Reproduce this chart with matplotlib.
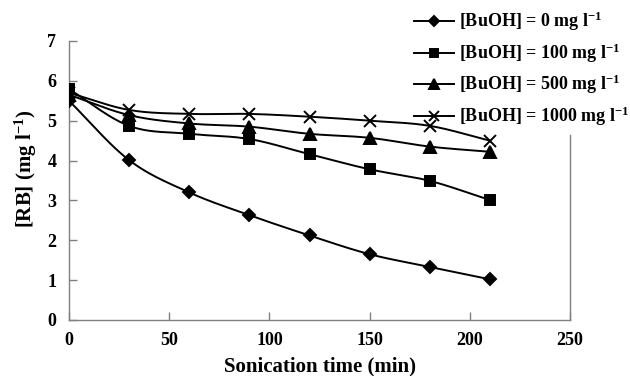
import numpy as np
import matplotlib
matplotlib.use("Agg")
import matplotlib.pyplot as plt
from matplotlib.lines import Line2D

plt.rcParams['font.family'] = ['Liberation Serif', 'DejaVu Serif']
plt.rcParams['font.weight'] = 'bold'
plt.rcParams['mathtext.fontset'] = 'custom'
plt.rcParams['mathtext.rm'] = 'Liberation Serif:bold'
plt.rcParams['mathtext.it'] = 'Liberation Serif:bold'
plt.rcParams['mathtext.bf'] = 'Liberation Serif:bold'

# Sonication time (min)
time_min = [0, 30, 60, 90, 120, 150, 180, 210]

# Rhodamine B concentration (mg/l) for each butanol dose
rb_0 = [5.50, 4.01, 3.20, 2.63, 2.12, 1.65, 1.33, 1.02]
rb_100 = [5.79, 4.87, 4.67, 4.54, 4.16, 3.78, 3.49, 3.01]
rb_500 = [5.65, 5.14, 4.93, 4.85, 4.67, 4.57, 4.35, 4.22]
rb_1000 = [5.70, 5.27, 5.17, 5.17, 5.10, 5.00, 4.87, 4.50]

series_labels = [r'[BuOH] = 0 mg l$^{-1}$', r'[BuOH] = 100 mg l$^{-1}$',
                 r'[BuOH] = 500 mg l$^{-1}$', r'[BuOH] = 1000 mg l$^{-1}$']
x_ticks = [0, 50, 100, 150, 200, 250]
y_ticks = [0, 1, 2, 3, 4, 5, 6, 7]


def smooth(x, y, n=24):
    """Catmull-Rom spline through the points (spreadsheet-style smoothed line)."""
    x = np.asarray(x, float)
    y = np.asarray(y, float)
    px = np.concatenate([[2 * x[0] - x[1]], x, [2 * x[-1] - x[-2]]])
    py = np.concatenate([[2 * y[0] - y[1]], y, [2 * y[-1] - y[-2]]])
    xs, ys = [], []
    t = np.linspace(0, 1, n, endpoint=False)
    for i in range(1, len(px) - 2):
        for p, out in ((px, xs), (py, ys)):
            p0, p1, p2, p3 = p[i - 1], p[i], p[i + 1], p[i + 2]
            out.extend(0.5 * ((2 * p1) + (-p0 + p2) * t +
                              (2 * p0 - 5 * p1 + 4 * p2 - p3) * t ** 2 +
                              (-p0 + 3 * p1 - 3 * p2 + p3) * t ** 3))
    xs.append(x[-1])
    ys.append(y[-1])
    return np.array(xs), np.array(ys)


fig = plt.figure(figsize=(6.3, 3.76), dpi=100)
ax = fig.add_axes([0.1095, 0.149, 0.7955, 0.742])

markers = ['D', 's', '^', 'x']
msizes = [6.5, 7, 8, 8.5]
handles = []
for yv, m, ms, lab in zip([rb_0, rb_100, rb_500, rb_1000], markers, msizes, series_labels):
    sx, sy = smooth(time_min, yv)
    ax.plot(sx, sy, color='black', lw=1.4, zorder=2)
    ax.plot(time_min, yv, linestyle='none', marker=m, ms=ms, color='black',
            mew=1.4, zorder=3)
    handles.append(Line2D([], [], color='black', lw=1.4, marker=m, ms=ms - 1.5, mew=1.4, label=lab))

ax.set_xlim(0, 250)
ax.set_ylim(0, 7)
ax.set_xticks(x_ticks)
ax.set_yticks(y_ticks)
ax.tick_params(direction='in', length=6, width=1, color='#808080', labelsize=13, pad=9)
for lbl in ax.get_xticklabels() + ax.get_yticklabels():
    lbl.set_fontweight('bold')

ax.spines['top'].set_visible(False)
for s in ('left', 'bottom', 'right'):
    ax.spines[s].set_color('#808080')
    ax.spines[s].set_linewidth(1)
ax.spines['right'].set_bounds(0, 4.64)

ax.set_xlabel('Sonication time (min)', fontsize=15, fontweight='bold', labelpad=5)
ax.set_ylabel(r'[RB] (mg l$^{-1}$)', fontsize=15, fontweight='bold')
ax.yaxis.set_label_coords(-0.06, 0.54)

fig.legend(handles=handles, loc='upper left', bbox_to_anchor=(414 / 630, 1 - 10 / 376),
           frameon=False, handlelength=2.2, handletextpad=0.3,
           labelspacing=0.45, borderaxespad=0, borderpad=0,
           prop={'weight': 'bold', 'size': 13})

fig.savefig('out.png', dpi=100)
